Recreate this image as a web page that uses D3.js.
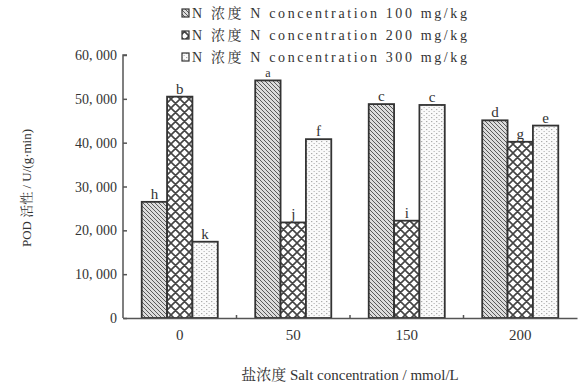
<!DOCTYPE html>
<html>
<head>
<meta charset="utf-8">
<script src="https://cdn.jsdelivr.net/npm/d3@7/dist/d3.min.js"></script>
<style>
  html, body { margin: 0; padding: 0; background: #fff; }
  svg text { font-family: "Liberation Serif", "Noto Serif CJK SC", "Noto Sans CJK SC", serif; fill: #333; }
</style>
</head>
<body>
<svg id="chart" width="580" height="388"></svg>
<script>
// Salt concentration groups (mmol/L)
const categories = ["0", "50", "150", "200"];
// Nitrogen treatment series
const seriesNames = [
  "N 浓度 N concentration 100 mg/kg",
  "N 浓度 N concentration 200 mg/kg",
  "N 浓度 N concentration 300 mg/kg"
];
// POD activity, U/(g·min)
const n100 = [26.5, 54.2, 48.8, 45.1];
const n200 = [50.5, 21.8, 22.2, 40.2];
const n300 = [17.4, 40.8, 48.6, 43.9];
// Significance letters
const letters100 = ["h", "a", "c", "d"];
const letters200 = ["b", "j", "i", "g"];
const letters300 = ["k", "f", "c", "e"];
// Y tick values and labels
const yTicks = [0, 10, 20, 30, 40, 50, 60];
const yTickLabels = ["0", "10, 000", "20, 000", "30, 000", "40, 000", "50, 000", "60, 000"];

const values = [n100, n200, n300];
const letters = [letters100, letters200, letters300];

const svg = d3.select("#chart");
const margin = { left: 123, right: 3, top: 55, bottom: 70 };
const W = 580, H = 388;
const y0 = 318;

// Fill patterns
const defs = svg.append("defs");
const p1 = defs.append("pattern").attr("id", "pat0").attr("patternUnits", "userSpaceOnUse")
  .attr("width", 4).attr("height", 4);
p1.append("rect").attr("width", 4).attr("height", 4).attr("fill", "#dcdcdc");
p1.append("path").attr("d", "M0,0 L4,4 M-1,3 L1,5 M3,-1 L5,1")
  .attr("stroke", "#5a5a5a").attr("stroke-width", 1);

const p2 = defs.append("pattern").attr("id", "pat1").attr("patternUnits", "userSpaceOnUse")
  .attr("width", 9).attr("height", 9);
p2.append("rect").attr("width", 9).attr("height", 9).attr("fill", "#fff");
p2.append("path").attr("d", "M0,0 L9,9 M9,0 L0,9 M-1,8 L1,10 M8,-1 L10,1 M-1,1 L1,-1 M8,10 L10,8")
  .attr("stroke", "#444").attr("stroke-width", 1.6);

const p3 = defs.append("pattern").attr("id", "pat2").attr("patternUnits", "userSpaceOnUse")
  .attr("width", 5).attr("height", 4);
p3.append("rect").attr("width", 5).attr("height", 4).attr("fill", "#fafafa");
p3.append("rect").attr("x", 1).attr("y", 1).attr("width", 1.3).attr("height", 1.1).attr("fill", "#aaa");
p3.append("rect").attr("x", 3.5).attr("y", 3).attr("width", 1.3).attr("height", 1.1).attr("fill", "#bbb");

// Scales
const x = d3.scaleBand().domain(categories).range([margin.left, W - margin.right])
  .paddingInner(0.33).paddingOuter(0.165);
const xs = d3.scaleBand().domain(d3.range(3)).range([0, x.bandwidth()]);
const y = d3.scaleLinear().domain([0, 60]).range([y0, margin.top]);

// Bars
const g = svg.append("g");
values.forEach((vals, si) => {
  g.selectAll(null).data(vals).enter().append("rect")
    .attr("x", (d, i) => x(categories[i]) + xs(si))
    .attr("y", d => y(d))
    .attr("width", xs.bandwidth())
    .attr("height", d => y0 - y(d))
    .attr("fill", `url(#pat${si})`)
    .attr("stroke", "#333").attr("stroke-width", 1.8);
});
// Letters drawn after all bars
values.forEach((vals, si) => {
  g.selectAll(null).data(vals).enter().append("text")
    .attr("x", (d, i) => x(categories[i]) + xs(si) + xs.bandwidth() / 2)
    .attr("y", d => y(d) - 3)
    .attr("text-anchor", "middle")
    .attr("font-size", (d, i) => (si === 0 && i === 1) ? 12 : 15)
    .text((d, i) => letters[si][i]);
});

// Y axis
const yAxis = d3.axisRight(y).tickValues(yTicks).tickSize(4)
  .tickFormat(() => "");
const yg = svg.append("g").attr("transform", `translate(${margin.left},0)`).call(yAxis);
yg.select(".domain").attr("stroke", "#555").attr("stroke-width", 1.5)
  .attr("d", `M4,${margin.top}H0V${y0}`);
yg.selectAll(".tick line").attr("stroke", "#555").attr("stroke-width", 1.5);
svg.append("g").selectAll("text").data(yTicks).enter().append("text")
  .attr("x", 117).attr("y", d => y(d) + 5)
  .attr("text-anchor", "end").attr("font-size", 14)
  .text((d, i) => yTickLabels[i]);

// X axis
const xg = svg.append("g").attr("transform", `translate(0,${y0})`)
  .call(d3.axisBottom(x).tickSize(0).tickPadding(11));
xg.select(".domain").attr("stroke", "#555").attr("stroke-width", 1.5);
xg.selectAll(".tick text").attr("font-size", 15).attr("fill", "#333")
  .attr("font-family", "Liberation Serif, serif");
// Minor ticks between groups
const bounds = categories.slice(1).map(c => x(c) - x.step() * x.paddingInner() / 2);
svg.append("g").selectAll("line").data(bounds).enter().append("line")
  .attr("x1", d => d).attr("x2", d => d)
  .attr("y1", y0 - 3).attr("y2", y0)
  .attr("stroke", "#555").attr("stroke-width", 1.5);

// Axis titles
svg.append("text")
  .attr("transform", `translate(31,188) rotate(-90)`)
  .attr("text-anchor", "middle").attr("font-size", 13)
  .text("POD 活性 / U/(g·min)");
svg.append("text")
  .attr("x", 350).attr("y", 380)
  .attr("text-anchor", "middle").attr("font-size", 15)
  .text("盐浓度 Salt concentration / mmol/L");

// Legend
const leg = svg.append("g");
seriesNames.forEach((name, i) => {
  const ly = 14 + i * 22;
  leg.append("rect").attr("x", 182).attr("y", ly - 5).attr("width", 7).attr("height", 8)
    .attr("fill", `url(#pat${i})`).attr("stroke", "#333").attr("stroke-width", 1.2);
  leg.append("text").attr("x", 192).attr("y", ly + 4).attr("font-size", 14)
    .attr("textLength", 275).attr("lengthAdjust", "spacing")
    .text(name);
});
</script>
</body>
</html>
